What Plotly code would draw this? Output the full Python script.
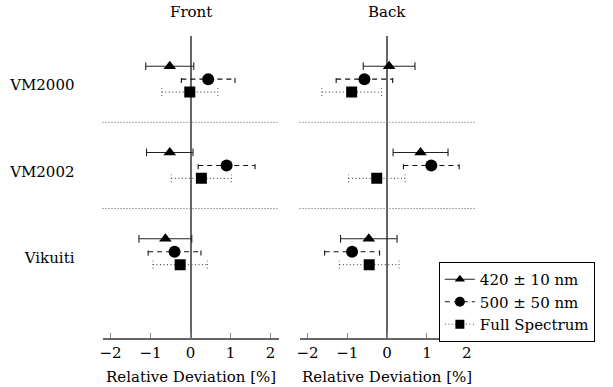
import plotly.graph_objects as go

categories = ["VM2000", "VM2002", "Vikuiti"]
cat_pos = [3, 2, 1]
series_names = ["420 ± 10 nm", "500 ± 50 nm", "Full Spectrum"]
series_offset = [0.15, 0.0, -0.15]

front_vals = {
    "420 ± 10 nm": [-0.52, -0.52, -0.63],
    "500 ± 50 nm": [0.44, 0.90, -0.40],
    "Full Spectrum": [-0.02, 0.27, -0.26],
}
front_err = {
    "420 ± 10 nm": [0.60, 0.58, 0.66],
    "500 ± 50 nm": [0.67, 0.71, 0.66],
    "Full Spectrum": [0.70, 0.75, 0.68],
}
back_vals = {
    "420 ± 10 nm": [0.05, 0.84, -0.46],
    "500 ± 50 nm": [-0.57, 1.11, -0.88],
    "Full Spectrum": [-0.89, -0.26, -0.45],
}
back_err = {
    "420 ± 10 nm": [0.65, 0.69, 0.71],
    "500 ± 50 nm": [0.71, 0.70, 0.69],
    "Full Spectrum": [0.75, 0.71, 0.75],
}
x_ticks = [-2, -1, 0, 1, 2]
x_ticktext = ["\u22122", "\u22121", "0", "1", "2"]

symbols = {"420 ± 10 nm": "triangle-up", "500 ± 50 nm": "circle", "Full Spectrum": "square"}
msize = {"420 ± 10 nm": 11, "500 ± 50 nm": 12, "Full Spectrum": 11}
dashes = {"420 ± 10 nm": "solid", "500 ± 50 nm": "5px,4px", "Full Spectrum": "1px,2.5px"}
lcolors = {"420 ± 10 nm": "#222222", "500 ± 50 nm": "#111111", "Full Spectrum": "#555555"}

FONT = "'DejaVu Serif', 'Liberation Serif', serif"
fig = go.Figure()
cap_h = 0.045

panels = [("x", "y", front_vals, front_err), ("x2", "y2", back_vals, back_err)]
for xa, ya, vals, errs in panels:
    for si, name in enumerate(series_names):
        ys = [p + series_offset[si] for p in cat_pos]
        bx, by, cx, cy = [], [], [], []
        for v, e, yv in zip(vals[name], errs[name], ys):
            bx += [v - e, v + e, None]
            by += [yv, yv, None]
            for xe in (v - e, v + e):
                cx += [xe, xe, None]
                cy += [yv - cap_h, yv + cap_h, None]
        fig.add_trace(go.Scatter(x=bx, y=by, mode="lines", xaxis=xa, yaxis=ya,
                                 line=dict(color=lcolors[name], width=1.1, dash=dashes[name]),
                                 showlegend=False, hoverinfo="skip"))
        fig.add_trace(go.Scatter(x=cx, y=cy, mode="lines", xaxis=xa, yaxis=ya,
                                 line=dict(color=lcolors[name], width=1.1, dash=dashes[name]),
                                 showlegend=False, hoverinfo="skip"))
        fig.add_trace(go.Scatter(x=vals[name], y=ys, mode="markers", xaxis=xa, yaxis=ya,
                                 marker=dict(symbol=symbols[name], size=msize[name], color="black",
                                             line=dict(width=0)),
                                 showlegend=False))

# legend entries
for name in series_names:
    fig.add_trace(go.Scatter(x=[None], y=[None], mode="lines+markers", name=name,
                             line=dict(color=lcolors[name], width=1.1, dash=dashes[name]),
                             marker=dict(symbol=symbols[name], size=msize[name] - 2, color="black")))

W, H = 613, 387
fx0, fx1 = 100 / W, 277 / W
bx0, bx1 = 298 / W, 474 / W
y0, y1 = 1 - 338 / H, 1 - 36 / H

xcommon = dict(range=[-2.2, 2.2], tickvals=x_ticks, ticktext=x_ticktext, showline=True,
               linecolor="#666666", linewidth=1.5, ticks="inside", ticklen=5, tickcolor="#888888",
               tickwidth=1, showgrid=False, zeroline=True, zerolinecolor="#666666", zerolinewidth=1.5,
               tickfont=dict(family=FONT, size=15, color="black"), fixedrange=True)
fig.update_layout(
    width=W, height=H, margin=dict(l=0, r=0, t=0, b=0),
    paper_bgcolor="white", plot_bgcolor="white",
    font=dict(family=FONT, size=15, color="black"),
    xaxis=dict(domain=[fx0, fx1], anchor="y", **xcommon),
    xaxis2=dict(domain=[bx0, bx1], anchor="y2", **xcommon),
    yaxis=dict(domain=[y0, y1], range=[0, 3.5], tickvals=cat_pos, ticktext=categories,
               showgrid=False, zeroline=False, showline=False, ticks="", ticklabelshift=6,
               ticklabelstandoff=27, tickfont=dict(family=FONT, size=15, color="black")),
    yaxis2=dict(domain=[y0, y1], range=[0, 3.5], showticklabels=False, showgrid=False,
                zeroline=False, showline=False, ticks=""),
    legend=dict(x=438 / W, y=1 - 262 / H, xanchor="left", yanchor="top",
                bordercolor="black", borderwidth=1, bgcolor="white",
                font=dict(family=FONT, size=15, color="black"), tracegroupgap=0, itemwidth=30),
    showlegend=True,
)

# separators
for xref in ("x", "x2"):
    for ysep in (2.5, 1.5):
        fig.add_shape(type="line", xref=xref + " domain", yref="y" if xref == "x" else "y2",
                      x0=0, x1=1, y0=ysep, y1=ysep,
                      line=dict(color="#555555", width=1, dash="1px,2px"), layer="below")

# titles
for xref, title in (("x", "Front"), ("x2", "Back")):
    fig.add_annotation(text=title, xref=xref, x=0, yref="paper", y=1 - 12 / H, yanchor="middle",
                       showarrow=False, font=dict(family=FONT, size=15, color="black"))
    fig.add_annotation(text="Relative Deviation [%]", xref=xref + " domain", x=0.5,
                       yref="paper", y=1 - 377 / H, yanchor="middle", showarrow=False,
                       font=dict(family=FONT, size=15, color="black"))

fig.write_html("out.html")
